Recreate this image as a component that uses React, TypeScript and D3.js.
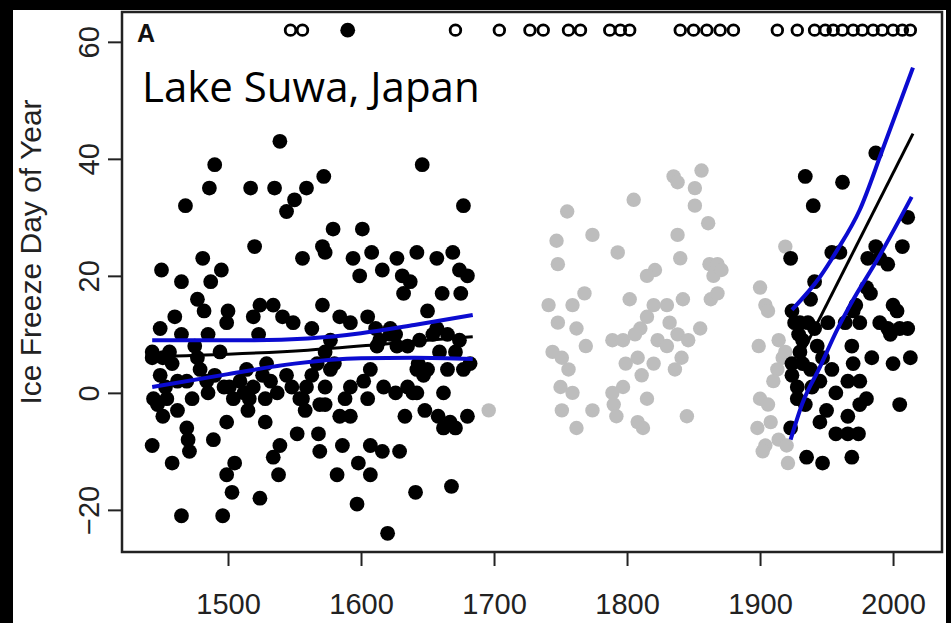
import React, { useEffect, useRef } from 'react';
import * as d3 from 'd3';

// Lake Suwa ice freeze dates
const xTicks = [1500, 1600, 1700, 1800, 1900, 2000];
const yTicks = [-20, 0, 20, 40, 60];

// black points, 1443 - 1683
const earlyPoints = [
  [1539, 43], [1490, 39], [1486, 35], [1517, 35], [1535, 35], [1559, 35], [1572, 37], [1550, 33], [1544, 31], [1468, 32],
  [1520, 25], [1556, 23], [1571, 25], [1481, 23], [1450, 21], [1465, 19], [1487, 19], [1495, 21], [1477, 16], [1482, 14],
  [1460, 13], [1500, 14], [1524, 15], [1534, 15], [1541, 13], [1549, 12], [1519, 13], [1571, 15], [1449, 11], [1465, 10],
  [1485, 10], [1499, 12], [1523, 10], [1563, 11], [1443, 6], [1456, 7], [1477, 6], [1494, 7], [1514, 4], [1529, 5],
  [1544, 3], [1567, 5], [1449, 3], [1469, 2], [1484, 2], [1501, 1], [1519, 1], [1532, 2], [1559, 1], [1444, -1],
  [1454, -1], [1473, -1], [1485, 0], [1504, -1], [1516, -1], [1528, -1], [1556, -1], [1569, -2], [1447, -2], [1451, -4],
  [1462, -3], [1515, -3], [1499, -5], [1528, -5], [1469, -6], [1470, -8], [1471, -10], [1443, -9], [1458, -12], [1489, -8],
  [1505, -12], [1499, -14], [1503, -17], [1524, -18], [1539, -9], [1534, -11], [1538, -14], [1552, -7], [1568, -7], [1569, -10],
  [1465, -21], [1496, -21],
  [1443, 7], [1451, 6], [1458, 5], [1462, 2], [1453, 1], [1475, 8], [1479, 4], [1490, 3], [1497, 1], [1509, 2],
  [1512, 0], [1526, 3], [1537, 0], [1548, 1], [1554, -1], [1563, 3], [1573, 1], [1558, -3],
  [1646, 39], [1677, 32], [1579, 28], [1601, 28], [1573, 24], [1594, 23], [1608, 24], [1599, 20], [1616, 21], [1627, 23],
  [1631, 20], [1637, 19], [1632, 17], [1642, 24], [1657, 23], [1669, 24], [1674, 21], [1680, 20], [1661, 17], [1675, 17],
  [1584, 13], [1592, 12], [1605, 13], [1622, 11], [1650, 14], [1657, 11], [1577, 9], [1614, 9], [1627, 8], [1644, 9],
  [1665, 10], [1674, 9], [1659, 7], [1577, 4], [1607, 4], [1642, 4], [1647, 3], [1665, 4], [1677, 4], [1602, 2],
  [1617, 1], [1635, 1], [1642, 0], [1573, -2], [1588, -1], [1605, -1], [1662, 0], [1584, -4], [1592, -4], [1633, -4],
  [1648, -3], [1658, -4], [1667, -5], [1680, -4], [1671, -6], [1586, -9], [1607, -9], [1616, -10], [1629, -10], [1598, -12],
  [1607, -14], [1582, -14], [1641, -17], [1668, -16], [1597, -19], [1620, -24],
  [1662, -6], [1639, 0], [1654, 10], [1612, 8], [1622, 10], [1590, 62],
  [1611, 11], [1626, 10], [1635, 8], [1573, 7], [1580, 5], [1643, 5], [1650, 4], [1671, 7], [1682, 5], [1592, 1],
  [1626, 0],
];

// grey points, 1684 - 1922
const historicPoints = [
  [1835, 37], [1838, 36], [1856, 38], [1851, 35], [1805, 33], [1755, 31], [1851, 32], [1861, 29], [1747, 26], [1774, 27],
  [1838, 27], [1793, 24], [1840, 23], [1748, 22], [1821, 21], [1815, 20], [1862, 22], [1865, 20], [1768, 17], [1741, 15],
  [1759, 15], [1802, 16], [1820, 15], [1830, 15], [1842, 16], [1863, 16], [1748, 12], [1762, 11], [1815, 13], [1810, 11],
  [1832, 12], [1838, 10], [1855, 11], [1769, 8], [1789, 9], [1797, 9], [1806, 10], [1823, 9], [1830, 8], [1846, 9],
  [1744, 7], [1751, 6], [1756, 4], [1799, 5], [1808, 6], [1820, 5], [1811, 3], [1836, 4], [1841, 6], [1750, 1],
  [1759, 0], [1751, -3], [1774, -3], [1789, 0], [1797, 1], [1790, -2], [1792, -4], [1815, -1], [1808, -5], [1812, -6],
  [1762, -6], [1845, -4], [1696, -3], [1868, 22], [1871, 21], [1868, 17],
  [1919, 25], [1900, 18], [1904, 15], [1906, 14], [1899, 8], [1914, 9], [1917, 6], [1913, 4], [1910, 2], [1900, -1],
  [1906, -2], [1898, -6], [1908, -5], [1904, -9], [1914, -8], [1920, -9], [1921, -12], [1902, -10], [1919, 7],
];

// black points, 1923 - 2014
const recentPoints = [
  [1987, 41], [1934, 37], [1962, 36], [1940, 32], [1923, 23], [1954, 24], [1960, 24], [2011, 30], [2007, 25], [1987, 25],
  [1981, 23], [1990, 23], [1996, 22], [1941, 19], [1938, 16], [1924, 14], [1980, 18], [1983, 17], [1972, 15], [2000, 15],
  [2003, 14], [1930, 12], [1936, 12], [1951, 12], [1964, 12], [1975, 12], [1970, 14], [1996, 11], [2011, 11], [1998, 10],
  [1929, 10], [1932, 9], [1943, 8], [1969, 8], [1924, 5], [1932, 5], [1947, 6], [1970, 5], [1984, 6], [2000, 5],
  [2013, 6], [1924, 3], [1938, 4], [1945, 2], [1954, 4], [1966, 2], [1928, -1], [1980, -1], [1975, -2], [2005, -2],
  [1950, -3], [1945, -5], [1966, -4], [1957, -7], [1966, -7], [1974, -7], [1923, -6], [1935, -11], [1947, -12], [1969, -11],
  [1926, 12], [1930, 7], [1941, 11], [1928, 1], [1939, 1], [1957, 0], [1975, 2], [1990, 12], [2005, 11], [1934, -2],
];

// years the lake did not freeze (open circles along the top)
const openYears = [
  1547, 1556, 1671, 1704, 1727, 1737, 1756, 1765, 1787, 1795, 1802, 1840, 1850, 1860, 1870, 1880,
  1913, 1928, 1941, 1949, 1955, 1962, 1970, 1977, 1985, 1992, 2000, 2007, 2013,
];
const openValue = 62;

// fitted trends and confidence bands
const earlyFit = [[1443, 6.2], [1500, 6.6], [1560, 7.3], [1610, 8.2], [1650, 9.0], [1684, 9.6]];
const earlyUpper = [[1443, 9.0], [1520, 9.0], [1560, 9.3], [1600, 10.2], [1640, 11.6], [1684, 13.3]];
const earlyLower = [[1443, 1.0], [1500, 3.2], [1550, 5.0], [1600, 5.9], [1640, 6.0], [1684, 5.8]];
const recentFit = [[1923, 2.9], [2015, 44.3]];
const recentUpper = [[1924, 14.2], [1945, 19.8], [1958, 24.4], [1975, 31.3], [1992, 41.5], [2015, 55.6]];
const recentLower = [[1923, -8.0], [1932, -1.7], [1945, 4.4], [1958, 10.8], [1970, 15.9], [1988, 22.7], [2014, 33.5]];

const App = () => {
  const svgRef = useRef(null);

  useEffect(() => {
    const width = 951;
    const height = 623;
    const plot = { left: 122, top: 12, right: 942, bottom: 552 };
    const axisFont = '"Liberation Sans", Arial, Helvetica, sans-serif';

    const svg = d3.select(svgRef.current)
                  .attr('width', width)
                  .attr('height', height);
    svg.selectAll('*').remove();

    // black outer frame with white panel
    svg.append('rect').attr('width', width).attr('height', height).attr('fill', '#000');
    svg.append('rect')
       .attr('x', 13).attr('y', 10)
       .attr('width', 933).attr('height', height - 10)
       .attr('fill', '#fff');

    const x = d3.scaleLinear().domain([1420.3, 2036.8]).range([plot.left, plot.right]);
    const y = d3.scaleLinear().domain([-27.2, 65.1]).range([plot.bottom, plot.top]);

    // x axis
    const gx = svg.append('g')
                  .attr('transform', `translate(0, ${plot.bottom})`)
                  .call(d3.axisBottom(x).tickValues(xTicks).tickSize(14).tickPadding(27).tickFormat(d3.format('d')));
    gx.select('.domain').remove();
    gx.selectAll('line').attr('stroke', '#222').attr('stroke-width', 2);
    gx.selectAll('text')
      .attr('font-family', axisFont)
      .attr('font-size', 29)
      .attr('fill', '#222');

    // y axis, labels rotated like base R
    const gy = svg.append('g')
                  .attr('transform', `translate(${plot.left}, 0)`)
                  .call(d3.axisLeft(y).tickValues(yTicks).tickSize(14).tickFormat(d => (d < 0 ? '\u2212' + Math.abs(d) : String(d))));
    gy.select('.domain').remove();
    gy.selectAll('line').attr('stroke', '#222').attr('stroke-width', 2);
    gy.selectAll('text')
      .attr('x', 0)
      .attr('dy', 0)
      .attr('text-anchor', 'middle')
      .attr('transform', 'translate(-23, 0) rotate(-90)')
      .attr('font-family', axisFont)
      .attr('font-size', 29)
      .attr('fill', '#222');

    svg.append('text')
       .attr('transform', 'translate(41, 252) rotate(-90)')
       .attr('text-anchor', 'middle')
       .attr('font-family', axisFont)
       .attr('font-size', 30)
       .attr('fill', '#222')
       .text('Ice Freeze Day of Year');

    // points
    svg.append('g').selectAll('circle')
       .data(historicPoints)
       .join('circle')
       .attr('cx', d => x(d[0]))
       .attr('cy', d => y(d[1]))
       .attr('r', 7.2)
       .attr('fill', '#bdbdbd');

    svg.append('g').selectAll('circle')
       .data(earlyPoints.concat(recentPoints))
       .join('circle')
       .attr('cx', d => x(d[0]))
       .attr('cy', d => y(d[1]))
       .attr('r', 7.4)
       .attr('fill', '#000');

    svg.append('g').selectAll('circle')
       .data(openYears)
       .join('circle')
       .attr('cx', d => x(d))
       .attr('cy', y(openValue))
       .attr('r', 5.3)
       .attr('fill', 'none')
       .attr('stroke', '#000')
       .attr('stroke-width', 2.8);

    // trend lines
    const line = d3.line()
                   .x(d => x(d[0]))
                   .y(d => y(d[1]))
                   .curve(d3.curveMonotoneX);

    [earlyFit, recentFit].forEach(s => {
      svg.append('path')
         .datum(s)
         .attr('fill', 'none')
         .attr('stroke', '#000')
         .attr('stroke-width', 3)
         .attr('d', line);
    });
    [earlyUpper, earlyLower, recentUpper, recentLower].forEach(s => {
      svg.append('path')
         .datum(s)
         .attr('fill', 'none')
         .attr('stroke', '#0b0bd0')
         .attr('stroke-width', 4)
         .attr('d', line);
    });

    // plot frame
    svg.append('rect')
       .attr('x', plot.left).attr('y', plot.top)
       .attr('width', plot.right - plot.left)
       .attr('height', plot.bottom - plot.top)
       .attr('fill', 'none')
       .attr('stroke', '#222')
       .attr('stroke-width', 2.5);

    svg.append('text')
       .attr('x', 137).attr('y', 42)
       .attr('font-family', axisFont)
       .attr('font-weight', 'bold')
       .attr('font-size', 25)
       .attr('fill', '#111')
       .text('A');

    svg.append('text')
       .attr('x', 142).attr('y', 102)
       .attr('font-family', '"Open Sans", "Noto Sans", sans-serif')
       .attr('font-size', 42)
       .attr('fill', '#000')
       .text('Lake Suwa, Japan');
  }, []);

  return <svg ref={svgRef} style={{ position: 'absolute', left: 0, top: 0, display: 'block' }}></svg>;
};

export default App;
